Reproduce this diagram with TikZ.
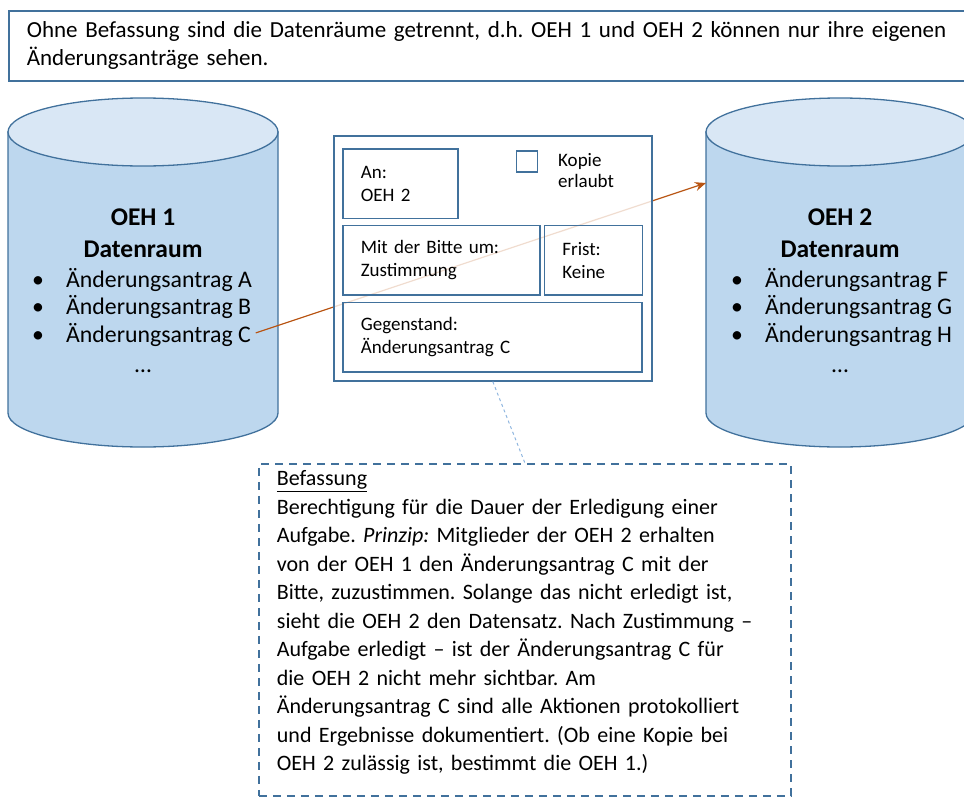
\documentclass[tikz,border=0pt]{standalone}
\usepackage{fontspec}
\setmainfont{Carlito}
\usepackage{tikz}
\usetikzlibrary{arrows.meta,positioning}
\definecolor{rand}{HTML}{41719C}
\definecolor{dbkoerper}{HTML}{BDD7EE}
\definecolor{dbdeckel}{HTML}{D9E7F5}
\definecolor{pfeil}{HTML}{B85412}
\definecolor{hinweislinie}{HTML}{8FB6DF}
\tikzset{datenraum/.style={draw=rand, line width=1.3pt, fill=dbkoerper}}
\tikzset{deckel/.style={draw=rand, line width=1.3pt, fill=dbdeckel}}
\tikzset{titel/.style={font=\fontsize{25.5}{28}\selectfont\bfseries, inner sep=0pt, anchor=base}}
\tikzset{eintrag/.style={font=\fontsize{23.8}{28}\selectfont, inner sep=0pt, anchor=base west}}
\tikzset{feld/.style={draw=rand, line width=1.6pt, anchor=north west, align=left, inner xsep=18pt, inner ysep=0pt, minimum height=69.5pt, font=\fontsize{19}{23}\selectfont}}
\tikzset{fliesstext/.style={font=\fontsize{22}{28.5}\selectfont, align=left}}
\frenchspacing

\begin{document}
\begin{tikzpicture}[x=1pt, y=1pt, >={Stealth[length=11pt, width=9pt]}]
\useasboundingbox (0,0) rectangle (964,-798);
\node[fliesstext, font=\fontsize{23}{28}\selectfont, draw=rand, line width=1.6pt, anchor=north west, inner xsep=18pt, text width=931pt, minimum height=70pt] (hinweis) at (8,-10) {Ohne Befassung sind die Datenräume getrennt, d.h. OEH 1 und OEH 2 können nur ihre eigenen\\Änderungsanträge sehen.};
\draw[datenraum] (8,-132) -- (8,-413) arc[start angle=180, end angle=360, x radius=135pt, y radius=34pt] -- (278,-132) -- cycle;
\draw[deckel] (143,-132) ellipse [x radius=135pt, y radius=34pt];
\draw[datenraum] (706,-132) -- (706,-413) arc[start angle=180, end angle=360, x radius=134pt, y radius=34pt] -- (974,-132) -- cycle;
\draw[deckel] (840,-132) ellipse [x radius=134pt, y radius=34pt];
\node[titel] (oeh1) at (143,-225) {OEH 1};
\node[titel, below=32pt of oeh1.base, anchor=base] (dr1) {Datenraum};
\node[eintrag] (a1a) at (32,-287) {\makebox[34pt][l]{•}Änderungsantrag A};
\node[eintrag, below=27.5pt of a1a.base west, anchor=base west] (a1b) {\makebox[34pt][l]{•}Änderungsantrag B};
\node[eintrag, below=27.5pt of a1b.base west, anchor=base west] (a1c) {\makebox[34pt][l]{•}Änderungsantrag C};
\node[eintrag, anchor=base] (mehr1) at (143,-372) {…};
\node[titel] (oeh2) at (840,-225) {OEH 2};
\node[titel, below=32pt of oeh2.base, anchor=base] (dr2) {Datenraum};
\node[eintrag] (a2f) at (731,-287) {\makebox[34pt][l]{•}Änderungsantrag F};
\node[eintrag, below=27.5pt of a2f.base west, anchor=base west] (a2g) {\makebox[34pt][l]{•}Änderungsantrag G};
\node[eintrag, below=27.5pt of a2g.base west, anchor=base west] (a2h) {\makebox[34pt][l]{•}Änderungsantrag H};
\node[eintrag, anchor=base] (mehr2) at (840,-372) {…};
\coordinate (ziel) at (706,-183);
\draw[->, pfeil, line width=1.2pt, shorten <=5pt] (a1c.east) -- (ziel);
\node[draw=rand, line width=1.6pt, fill=white, fill opacity=0.8, text opacity=1, anchor=north west, minimum width=318pt, minimum height=245pt, inner sep=0pt] (formular) at (333,-135) {};
\node[feld, text width=79pt] (an) at (342,-148) {An:\\OEH 2};
\node[feld, text width=161pt, below=5.5pt of an.south west, anchor=north west] (bitte) {Mit der Bitte um:\\Zustimmung};
\node[feld, text width=62pt, right=3pt of bitte.north east, anchor=north west] (frist) {Frist:\\Keine};
\node[feld, text width=263pt, below=6pt of bitte.south west, anchor=north west] (gegenstand) {Gegenstand:\\Änderungsantrag C};
\node[draw=rand, line width=1.6pt, minimum size=21pt, inner sep=0pt] (kaestchen) at (527,-161.5) {};
\node[font=\fontsize{19}{21}\selectfont, align=left, inner sep=0pt, anchor=west] (kopie) at (558,-171) {Kopie\\erlaubt};
\node[fliesstext, draw=rand, line width=1.8pt, dash pattern=on 8pt off 6pt, anchor=north west, inner xsep=18pt, inner ysep=7pt, text width=496pt] (befassung) at (258,-463) {\underline{Befassung}\\
Berechtigung für die Dauer der Erledigung einer\\
Aufgabe. \textit{Prinzip:} Mitglieder der OEH 2 erhalten\\
von der OEH 1 den Änderungsantrag C mit der\\
Bitte, zuzustimmen. Solange das nicht erledigt ist,\\
sieht die OEH 2 den Datensatz. Nach Zustimmung –\\
Aufgabe erledigt – ist der Änderungsantrag C für\\
die OEH 2 nicht mehr sichtbar. Am\\
Änderungsantrag C sind alle Aktionen protokolliert\\
und Ergebnisse dokumentiert. (Ob eine Kopie bei\\
OEH 2 zulässig ist, bestimmt die OEH 1.)\rule[-18pt]{0pt}{18pt}};
\draw[hinweislinie, line width=1pt, dash pattern=on 3pt off 3pt] (formular.south) -- (befassung.north);
\end{tikzpicture}
\end{document}
